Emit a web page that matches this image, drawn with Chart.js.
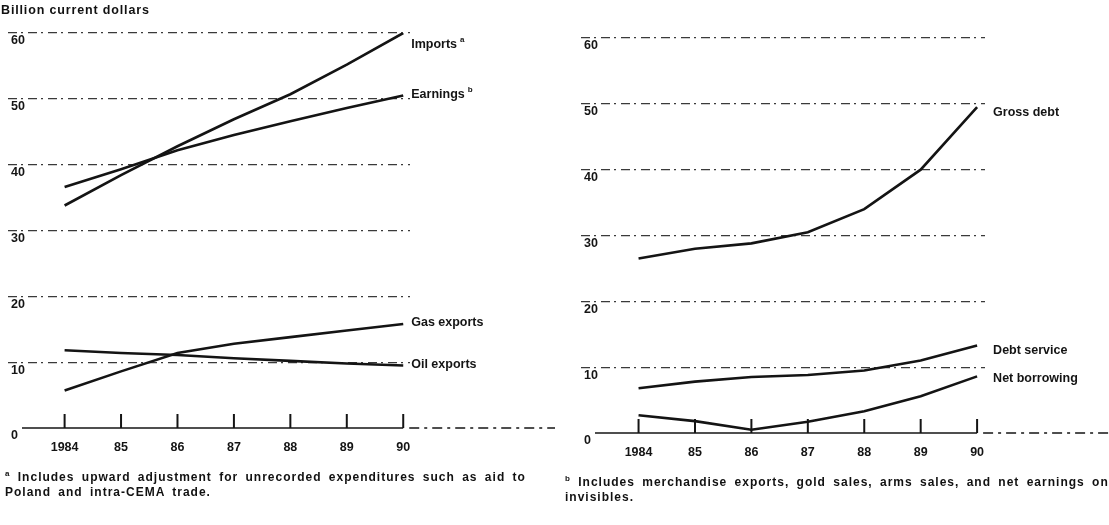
<!DOCTYPE html>
<html>
<head>
<meta charset="utf-8">
<script src="https://cdn.jsdelivr.net/npm/chart.js@4.4.1/dist/chart.umd.min.js"></script>
<style>
  body { margin: 0; background: #fff; width: 1109px; height: 525px; position: relative; overflow: hidden;
         font-family: "Liberation Sans", sans-serif; color: #111; }
  #left { position: absolute; left: 0; top: 0; }
  #right { position: absolute; left: 558px; top: 0; }
  .unit { position: absolute; left: 1px; top: 3px; font-size: 12.5px; font-weight: bold; letter-spacing: .85px; }
  .note { position: absolute; font-size: 12px; font-weight: bold; line-height: 15px; letter-spacing: 1px; word-spacing: 3px; white-space: nowrap; }
  .note sup { font-size: 8px; }
</style>
</head>
<body>
<canvas id="left" width="555" height="470"></canvas>
<canvas id="right" width="551" height="472"></canvas>
<div class="unit">Billion current dollars</div>
<div class="note" style="left:5px;top:466px"><sup>a</sup> Includes upward adjustment for unrecorded expenditures such as aid to<br>Poland and intra-CEMA trade.</div>
<div class="note" style="left:565px;top:471px"><sup>b</sup> Includes merchandise exports, gold sales, arms sales, and net earnings on<br>invisibles.</div>
<script>
const years = [1984, 1985, 1986, 1987, 1988, 1989, 1990];
const yearLabels = ['1984', '85', '86', '87', '88', '89', '90'];
const valueTicks = [0, 10, 20, 30, 40, 50, 60];

// left panel
const imports = [33.8, 38.4, 42.8, 46.9, 50.7, 55.2, 60];
const earnings = [36.6, 39.3, 42.2, 44.5, 46.6, 48.6, 50.5];
const gasExports = [5.7, 8.6, 11.4, 12.8, 13.8, 14.8, 15.8];
const oilExports = [11.8, 11.4, 11.1, 10.6, 10.2, 9.8, 9.5];

// right panel
const grossDebt = [26.5, 28.0, 28.8, 30.5, 34.0, 40.0, 49.5];
const debtService = [6.8, 7.8, 8.5, 8.8, 9.5, 11.0, 13.3];
const netBorrowing = [2.7, 1.8, 0.5, 1.7, 3.3, 5.6, 8.6];

const ink = '#141414';
const font = '"Liberation Sans", sans-serif';

function series(label, values, dx, dy, note) {
  return {
    label: label,
    note: note,
    labelDx: dx,
    labelDy: dy,
    data: years.map((yr, i) => ({ x: yr, y: values[i] })),
    borderColor: ink,
    borderWidth: 2.6,
    pointRadius: 0,
    tension: 0,
    fill: false
  };
}

// axis line, year ticks and end-of-line labels
const inkPlugin = {
  id: 'ink',
  afterDatasetsDraw(chart) {
    const { ctx, chartArea, scales: { x, y } } = chart;
    const y0 = y.getPixelForValue(0);
    const xEnd = x.getPixelForValue(years[years.length - 1]);
    ctx.save();
    ctx.strokeStyle = ink;
    ctx.lineWidth = 1.6;
    ctx.beginPath();
    ctx.moveTo(chartArea.left + 14, y0);
    ctx.lineTo(xEnd, y0);
    ctx.stroke();
    ctx.setLineDash([10, 5, 3, 5]);
    ctx.beginPath();
    ctx.moveTo(xEnd + 6, y0);
    ctx.lineTo(chart.width, y0);
    ctx.stroke();
    ctx.setLineDash([]);
    ctx.lineWidth = 2;
    x.ticks.forEach(t => {
      const px = x.getPixelForValue(t.value);
      ctx.beginPath();
      ctx.moveTo(px, y0);
      ctx.lineTo(px, y0 - 14);
      ctx.stroke();
    });
    ctx.fillStyle = ink;
    ctx.textBaseline = 'middle';
    chart.data.datasets.forEach((ds, i) => {
      const pts = chart.getDatasetMeta(i).data;
      const pt = pts[pts.length - 1];
      const lx = pt.x + ds.labelDx;
      const ly = pt.y + ds.labelDy;
      ctx.font = 'bold 12.5px ' + font;
      ctx.fillText(ds.label, lx, ly);
      if (ds.note) {
        const w = ctx.measureText(ds.label).width;
        ctx.font = 'bold 8px ' + font;
        ctx.fillText(ds.note, lx + w + 3, ly - 5);
      }
    });
    ctx.restore();
  }
};

function makeChart(id, datasets, pad, xMin, xMax) {
  return new Chart(document.getElementById(id), {
    type: 'line',
    data: { datasets: datasets },
    options: {
      responsive: false,
      animation: false,
      layout: { padding: pad },
      plugins: { legend: { display: false }, tooltip: { enabled: false } },
      scales: {
        x: {
          type: 'linear',
          min: xMin,
          max: xMax,
          grid: { display: false, drawTicks: false },
          border: { display: false },
          afterBuildTicks: axis => { axis.ticks = years.map(v => ({ value: v })); },
          ticks: {
            color: ink,
            padding: 12,
            font: { family: font, size: 12.5, weight: 'bold' },
            callback: v => yearLabels[years.indexOf(v)]
          }
        },
        y: {
          min: 0,
          max: 60,
          afterBuildTicks: axis => { axis.ticks = valueTicks.map(v => ({ value: v })); },
          grid: {
            drawTicks: false,
            lineWidth: 1.2,
            color: c => (c.tick && c.tick.value === 0) ? 'rgba(0,0,0,0)' : '#3a3a3a'
          },
          border: { display: false, dash: [9, 4, 2, 5] },
          ticks: {
            mirror: true,
            padding: 3,
            labelOffset: 8,
            color: ink,
            font: { family: font, size: 12.5, weight: 'bold' }
          }
        }
      }
    },
    plugins: [inkPlugin]
  });
}

makeChart('left', [
  series('Imports', imports, 8, 12, 'a'),
  series('Earnings', earnings, 8, -1, 'b'),
  series('Gas exports', gasExports, 8, -1),
  series('Oil exports', oilExports, 8, -1)
], { left: 2, right: 145, top: 33, bottom: 3 }, 1982.997, 1990.12);

makeChart('right', [
  series('Gross debt', grossDebt, 16, 5),
  series('Debt service', debtService, 16, 5),
  series('Net borrowing', netBorrowing, 16, 2)
], { left: 17, right: 124, top: 38, bottom: 0 }, 1982.98, 1990.14);
</script>
</body>
</html>
